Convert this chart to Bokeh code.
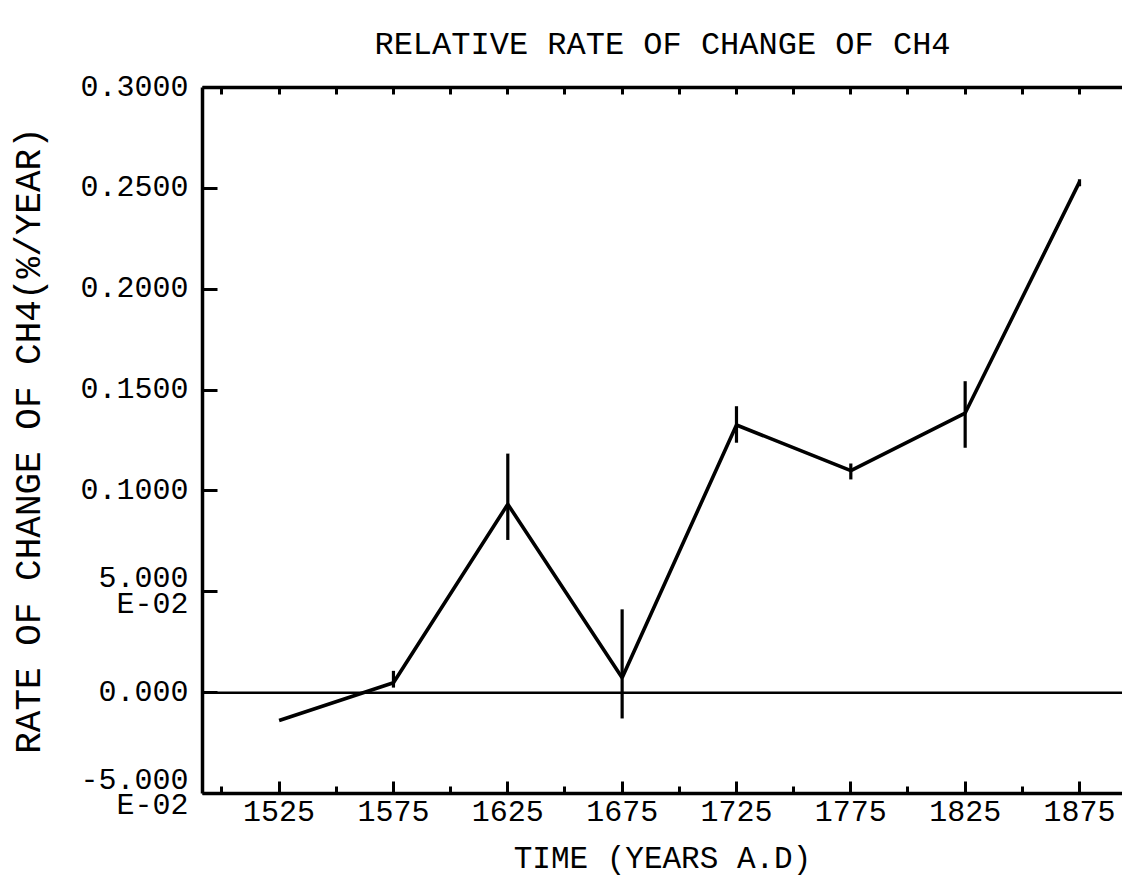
from bokeh.plotting import figure
from bokeh.models import Range1d, LinearAxis, FixedTicker, Span
from bokeh.embed import file_html
from bokeh.resources import INLINE

# ---- data ----
years = [1525, 1575, 1625, 1675, 1725, 1775, 1825, 1875]
rate = [-0.0138, 0.0049, 0.0934, 0.0074, 0.1327, 0.1101, 0.1386, 0.2532]
err_low = [-0.0138, 0.0025, 0.0757, -0.0128, 0.1239, 0.1057, 0.1214, 0.2510]
err_high = [-0.0138, 0.0108, 0.1185, 0.0413, 0.1420, 0.1136, 0.1544, 0.2545]

x_major = [1525, 1575, 1625, 1675, 1725, 1775, 1825, 1875]
x_minor = [1500, 1550, 1600, 1650, 1700, 1750, 1800, 1850, 1900]
x_top = [1500, 1525, 1550, 1575, 1600, 1625, 1650, 1675, 1700, 1725, 1750,
         1775, 1800, 1825, 1850, 1875, 1900]
y_ticks = [-0.05, 0.0, 0.05, 0.1, 0.15, 0.2, 0.25, 0.3]
NB = "\u00a0"
y_tick_labels = ["-5.000\n" + NB + NB + "E-02", "0.000", "5.000\n" + NB + "E-02",
                 "0.1000", "0.1500", "0.2000", "0.2500", "0.3000"]
title_text = "RELATIVE RATE OF CHANGE OF CH4"

FONT = "Liberation Mono"
BLACK = "#000000"

p = figure(width=1122, height=879, output_backend="svg", toolbar_location=None,
           x_range=Range1d(1491.5, 1893.8), y_range=Range1d(-0.05, 0.3),
           min_border_left=202, min_border_right=0, min_border_top=87,
           min_border_bottom=80, background_fill_color="white",
           border_fill_color="white")
p.outline_line_color = None
p.xgrid.visible = False
p.ygrid.visible = False

# title
p.title.text = title_text
p.title.text_font = FONT
p.title.text_font_size = "32px"
p.title.text_font_style = "normal"
p.title.text_color = BLACK
p.title.align = "center"
p.title.standoff = 48

# bottom axis
xa = p.xaxis[0]
xa.ticker = FixedTicker(ticks=x_major, minor_ticks=x_minor)
xa.axis_line_width = 3.5
xa.axis_line_color = BLACK
xa.major_tick_in = 12
xa.major_tick_out = 0
xa.minor_tick_in = 7
xa.minor_tick_out = 0
xa.major_tick_line_width = 3
xa.minor_tick_line_width = 3
xa.major_tick_line_color = BLACK
xa.minor_tick_line_color = BLACK
xa.major_label_text_font = FONT
xa.major_label_text_font_size = "30px"
xa.major_label_text_color = BLACK
xa.major_label_standoff = 7
xa.axis_label = "TIME (YEARS A.D)"
xa.axis_label_text_font = FONT
xa.axis_label_text_font_size = "31px"
xa.axis_label_text_font_style = "normal"
xa.axis_label_text_color = BLACK
xa.axis_label_standoff = 18

# left axis
ya = p.yaxis[0]
ya.ticker = FixedTicker(ticks=y_ticks, minor_ticks=[])
ya.major_label_overrides = {t: s for t, s in zip(y_ticks, y_tick_labels)}
ya.axis_line_width = 3.5
ya.axis_line_color = BLACK
ya.major_tick_in = 15
ya.major_tick_out = 0
ya.major_tick_line_width = 3
ya.major_tick_line_color = BLACK
ya.major_label_text_font = FONT
ya.major_label_text_font_size = "30px"
ya.major_label_text_color = BLACK
ya.major_label_text_line_height = 0.75
ya.major_label_standoff = 14
ya.axis_label = "RATE OF CHANGE OF CH4(%/YEAR)"
ya.axis_label_text_font = FONT
ya.axis_label_text_font_size = "36px"
ya.axis_label_text_font_style = "normal"
ya.axis_label_text_color = BLACK
ya.axis_label_standoff = 26

# top axis (ticks only)
ta = LinearAxis(ticker=FixedTicker(ticks=x_top, minor_ticks=[]))
ta.major_label_overrides = {t: "" for t in x_top}
ta.axis_line_width = 3.5
ta.axis_line_color = BLACK
ta.major_tick_in = 7
ta.major_tick_out = 0
ta.major_tick_line_width = 3
ta.major_tick_line_color = BLACK
ta.major_label_standoff = 0
p.add_layout(ta, "above")

# zero line
p.add_layout(Span(location=0, dimension="width", line_color=BLACK, line_width=2.5))

# error bars and the series line
p.segment(x0=years, y0=err_low, x1=years, y1=err_high, line_color=BLACK, line_width=3.2)
p.line(years, rate, line_color=BLACK, line_width=3.6)

open("out.html", "w").write(file_html(p, INLINE))
